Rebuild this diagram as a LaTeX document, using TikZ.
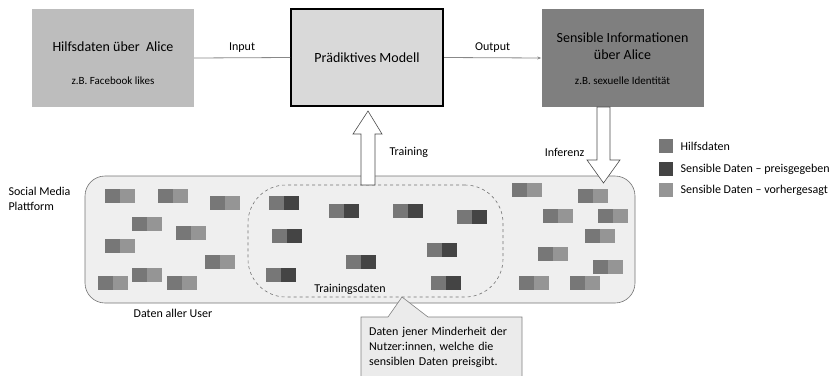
\documentclass[tikz,border=0pt]{standalone}
\usepackage{fontspec}
\setmainfont{Carlito}
\usetikzlibrary{arrows.meta,positioning}

\definecolor{auxgray}{HTML}{BDBDBD}
\definecolor{modelgray}{HTML}{D9D9D9}
\definecolor{sensgray}{HTML}{7F7F7F}
\definecolor{hilfsgray}{HTML}{777777}
\definecolor{preisgray}{HTML}{444444}
\definecolor{vorhergray}{HTML}{959595}
\definecolor{platgray}{HTML}{EFEFEF}
\definecolor{linegray}{HTML}{888888}

\begin{document}
\begin{tikzpicture}[x=1pt, y=-1pt,
        bigfont/.style={font=\fontsize{14}{17}\selectfont},
        smallfont/.style={font=\fontsize{11}{13}\selectfont},
        labelfont/.style={font=\fontsize{12}{15}\selectfont},
        infobox/.style={minimum width=162pt, minimum height=98pt, inner sep=0pt},
        connector/.style={draw=linegray, line width=0.8pt},
        hollowarrow/.style={draw=black!70, fill=white, line width=0.6pt, line join=miter},
        legbox/.style={minimum size=14pt, inner sep=0pt},
    ]
    \useasboundingbox (0,0) rectangle (830,375);
    \clip (0,0) rectangle (830,375);

    % obere Reihe
    \node[infobox, fill=auxgray] (aux) at (113,58) {};
    \node[bigfont] (auxtitle) at (113,47) {Hilfsdaten über\ \ Alice};
    \node[smallfont] (auxex) at (113,81) {z.B. Facebook likes};

    \node[infobox, minimum width=152pt, minimum height=97pt, fill=modelgray, draw=black, line width=2pt] (model) at (367,57.5) {};
    \node[bigfont] (modeltitle) at (367,58) {Prädiktives Modell};

    \node[infobox, fill=sensgray] (sens) at (622.5,58) {};
    \node[bigfont, align=center] (senstitle) at (622.5,46) {Sensible Informationen\\über Alice};
    \node[smallfont] (sensex) at (622.5,81) {z.B. sexuelle Identität};

    \draw[connector] (aux.east) -- (model.west) node[midway, above=2pt, labelfont, black] {Input};
    \draw[connector, -{Stealth[length=4pt, width=3pt]}] (model.east) -- (sens.west) node[midway, above=2pt, labelfont, black] {Output};

    % Plattform
    \node[labelfont, align=left, anchor=north west] (platname) at (5,184) {Social Media\\Plattform};
    \node[draw=black!55, fill=platgray, rounded corners=20pt, line width=0.6pt,
          minimum width=550pt, minimum height=127pt] (plat) at (360,239.5) {};
    \node[draw=black!55, dashed, rounded corners=38pt, line width=0.6pt,
          minimum width=255pt, minimum height=112pt] (train) at (375.5,241) {};
    \node[labelfont] (trainname) at (350,289) {Trainingsdaten};
    \node[labelfont] (platlabel) at (173,313) {Daten aller User};

    % Nutzer:innen ohne preisgegebene Daten
    \foreach \x/\y in {105/189, 158/189, 210/196, 132/217, 176/226, 105/239, 205/255, 132/268, 98/276, 167/276,
                       512/183, 578/189, 543/209, 598/209, 585/229, 538/247, 593/260, 519/276, 570/276} {
        \fill[hilfsgray] (\x,\y) rectangle ++(15,14);
        \fill[vorhergray] (\x+15,\y) rectangle ++(15,14);
    }
    % Nutzer:innen mit preisgegebenen Daten
    \foreach \x/\y in {269/196, 329/204, 393/204, 457/210, 272/229, 427/243, 346/255, 266/268, 431/276} {
        \fill[hilfsgray] (\x,\y) rectangle ++(15,14);
        \fill[preisgray] (\x+15,\y) rectangle ++(15,14);
    }

    % Training und Inferenz
    \draw[hollowarrow] (361,185) -- (361,134) -- (353,134) -- (368,111) -- (382,134) -- (375,134) -- (375,185) -- cycle;
    \node[labelfont, anchor=west] (trainarrow) at (386,152) {Training};
    \draw[hollowarrow] (597,107) -- (597,160) -- (587,160) -- (603.5,183) -- (620,160) -- (610,160) -- (610,107) -- cycle;
    \node[labelfont, anchor=east] (inferarrow) at (588,152) {Inferenz};

    % Hinweis
    \draw[draw=black!50, fill=black!8, line width=0.6pt] (361,317) -- (388,317) -- (402,297) -- (428,317) -- (522,317) -- (522,395) -- (361,395) -- cycle;
    \node[labelfont, align=left, anchor=north west, text width=150pt, inner sep=0pt] (note) at (369,327) {Daten jener Minderheit der\\Nutzer:innen, welche die\\sensiblen Daten preisgibt.};

    % Legende
    \node[legbox, fill=hilfsgray] (leghilfs) at (666,146) {};
    \node[labelfont, right=4pt of leghilfs] {Hilfsdaten};
    \node[legbox, fill=preisgray] (legpreis) at (666,169) {};
    \node[labelfont, right=4pt of legpreis] {Sensible Daten -- preisgegeben};
    \node[legbox, fill=vorhergray] (legvorher) at (666,190) {};
    \node[labelfont, right=4pt of legvorher] {Sensible Daten -- vorhergesagt};
\end{tikzpicture}
\end{document}
